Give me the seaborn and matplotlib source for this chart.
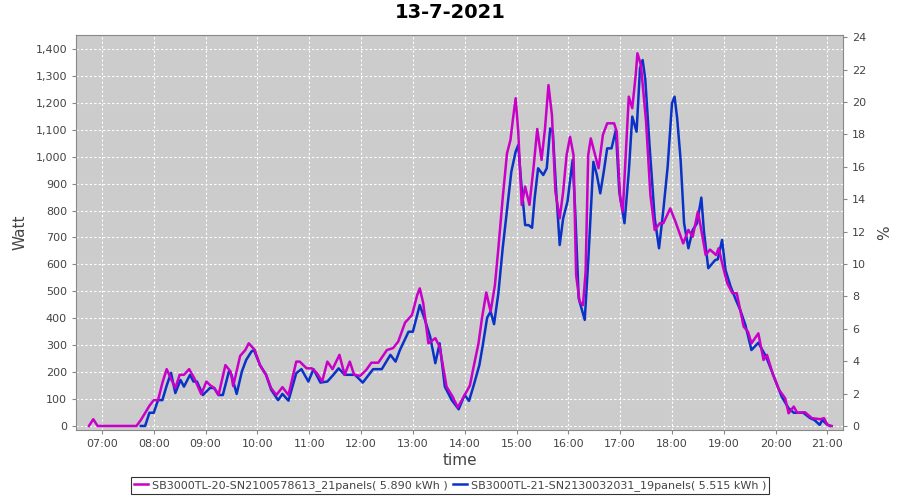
import matplotlib
matplotlib.use("Agg")
import matplotlib.pyplot as plt
import matplotlib.dates as mdates
from matplotlib.ticker import FuncFormatter, MultipleLocator
import pandas as pd
import seaborn as sns

day = "2021-07-13"
title = "13-7-2021"
name_a = "SB3000TL-20-SN2100578613_21panels( 5.890 kWh )"
name_b = "SB3000TL-21-SN2130032031_19panels( 5.515 kWh )"

# magenta inverter (21 panels), watt
times_a = ["06:45", "06:50", "06:55", "07:00", "07:10", "07:20", "07:30", "07:40",
           "07:45", "07:50", "07:55", "08:00", "08:05", "08:10", "08:15", "08:20",
           "08:25", "08:30", "08:35", "08:41", "08:47", "08:55", "09:01", "09:05",
           "09:10", "09:15", "09:23", "09:29", "09:32", "09:40", "09:46", "09:50",
           "09:57", "10:03", "10:10", "10:16", "10:22", "10:29", "10:36", "10:45",
           "10:49", "10:57", "11:03", "11:09", "11:15", "11:21", "11:27", "11:35",
           "11:41", "11:47", "11:52", "11:59", "12:06", "12:12", "12:20", "12:30",
           "12:37", "12:43", "12:51", "12:59", "13:05", "13:08", "13:12", "13:18",
           "13:26", "13:31", "13:39", "13:46", "13:52", "13:59", "14:06", "14:10",
           "14:16", "14:20", "14:25", "14:30", "14:35", "14:39", "14:44", "14:49",
           "14:53", "14:56", "14:59", "15:02", "15:06", "15:10", "15:15", "15:20",
           "15:24", "15:29", "15:33", "15:37", "15:41", "15:45", "15:50", "15:54",
           "15:58", "16:02", "16:06", "16:09", "16:13", "16:17", "16:20", "16:23",
           "16:26", "16:31", "16:35", "16:40", "16:45", "16:53", "16:56", "17:00",
           "17:03", "17:06", "17:10", "17:14", "17:18", "17:20", "17:24", "17:30",
           "17:35", "17:40", "17:46", "17:50", "17:58", "18:04", "18:13", "18:19",
           "18:24", "18:30", "18:35", "18:39", "18:44", "18:51", "18:54", "18:59",
           "19:04", "19:10", "19:15", "19:19", "19:23", "19:28", "19:32", "19:40",
           "19:46", "19:50", "19:57", "20:04", "20:11", "20:15", "20:21", "20:25",
           "20:34", "20:42", "20:52", "20:56", "21:00", "21:05"]
watt_a = [0, 25, 0, 0, 0, 0, 0, 0,
          22, 48, 75, 96, 96, 160, 211, 175,
          141, 190, 190, 211, 177, 118, 165, 152,
          141, 115, 226, 202, 148, 260, 282, 307,
          282, 226, 190, 140, 115, 144, 115, 239,
          239, 214, 214, 196, 165, 239, 211, 264,
          190, 239, 190, 186, 208, 235, 235, 282,
          289, 313, 384, 412, 486, 511, 456, 307,
          326, 294, 146, 109, 69, 109, 150, 214,
          307, 400, 496, 425, 523, 660, 846, 1013,
          1062, 1143, 1217, 1093, 821, 889, 821, 969,
          1103, 988, 1105, 1266, 1155, 870, 771, 870,
          1006, 1074, 1006, 561, 462, 449, 573, 1006,
          1068, 1006, 957, 1081, 1124, 1124, 1093, 846,
          796, 981, 1223, 1180, 1303, 1384, 1341, 1130,
          858, 728, 753, 753, 808, 759, 678, 728,
          703, 796, 709, 635, 655, 635, 660, 592,
          530, 493, 493, 431, 369, 350, 307, 344,
          245, 264, 190, 134, 103, 47, 72, 49,
          51, 29, 25, 29, 4, 0]

# blue inverter (19 panels), watt
times_b = ["07:45", "07:50", "07:55", "08:00", "08:05", "08:10", "08:15", "08:20",
           "08:25", "08:31", "08:35", "08:42", "08:46", "08:50", "08:57", "09:05",
           "09:10", "09:15", "09:20", "09:27", "09:30", "09:36", "09:42", "09:47",
           "09:53", "09:56", "10:03", "10:10", "10:16", "10:24", "10:29", "10:36",
           "10:45", "10:51", "10:59", "11:05", "11:13", "11:21", "11:28", "11:34",
           "11:41", "11:53", "12:02", "12:14", "12:24", "12:34", "12:40", "12:45",
           "12:55", "13:00", "13:08", "13:14", "13:20", "13:26", "13:31", "13:37",
           "13:45", "13:53", "14:00", "14:05", "14:10", "14:17", "14:21", "14:26",
           "14:30", "14:34", "14:39", "14:44", "14:49", "14:54", "14:59", "15:02",
           "15:05", "15:10", "15:14", "15:18", "15:21", "15:25", "15:31", "15:35",
           "15:39", "15:42", "15:46", "15:50", "15:54", "15:59", "16:05", "16:08",
           "16:12", "16:19", "16:23", "16:29", "16:33", "16:37", "16:41", "16:45",
           "16:50", "16:55", "16:59", "17:05", "17:10", "17:14", "17:19", "17:23",
           "17:26", "17:29", "17:34", "17:40", "17:45", "17:50", "17:55", "18:00",
           "18:03", "18:06", "18:10", "18:14", "18:19", "18:24", "18:29", "18:34",
           "18:37", "18:42", "18:50", "18:53", "18:58", "19:02", "19:08", "19:14",
           "19:19", "19:25", "19:32", "19:40", "19:49", "19:58", "20:07", "20:15",
           "20:21", "20:32", "20:40", "20:45", "20:51", "20:54", "20:59", "21:03"]
watt_b = [0, 0, 49, 49, 96, 96, 150, 197,
          122, 171, 146, 190, 165, 165, 115, 141,
          141, 115, 115, 202, 190, 119, 202, 245,
          276, 282, 226, 190, 134, 96, 119, 94,
          196, 211, 165, 211, 161, 165, 190, 214,
          190, 190, 161, 211, 211, 264, 239, 282,
          350, 350, 449, 394, 332, 233, 307, 146,
          96, 62, 115, 93, 146, 226, 301, 402,
          425, 378, 493, 660, 802, 944, 1019, 1043,
          920, 746, 746, 736, 846, 957, 932, 957,
          1105, 1093, 870, 672, 771, 833, 988, 796,
          474, 394, 610, 981, 932, 864, 944, 1031,
          1031, 1099, 870, 753, 944, 1149, 1093, 1328,
          1359, 1291, 1043, 771, 660, 802, 963, 1198,
          1223, 1143, 988, 753, 660, 728, 753, 848,
          722, 586, 616, 619, 691, 579, 517, 468,
          431, 375, 282, 309, 257, 183, 109, 66,
          49, 49, 29, 22, 4, 22, 7, 0]

pct_ticks = list(range(0, 25, 2))

col_a = "#C800C8"
col_b = "#0A32C8"
txt = "#444444"

df_a = pd.DataFrame({"time": pd.to_datetime([day + " " + t for t in times_a]), "watt": watt_a})
df_b = pd.DataFrame({"time": pd.to_datetime([day + " " + t for t in times_b]), "watt": watt_b})

plt.rcParams["font.family"] = ["DejaVu Sans"]

fig = plt.figure(figsize=(9, 5), dpi=100)
ax = fig.add_axes([76 / 900, 70 / 500, 767 / 900, 395 / 500])
ax.set_facecolor("#CCCCCC")

# JFreeChart draws the first series on top
sns.lineplot(data=df_b, x="time", y="watt", color=col_b, linewidth=1.8, ax=ax, label=name_b)
sns.lineplot(data=df_a, x="time", y="watt", color=col_a, linewidth=1.8, ax=ax, label=name_a)

ax.set_xlim(pd.Timestamp(day + " 06:30"), pd.Timestamp(day + " 21:18"))
ax.set_ylim(-15, 1452)
ax.yaxis.set_major_locator(MultipleLocator(100))
ax.yaxis.set_major_formatter(FuncFormatter(lambda v, p: f"{int(v):,}"))
ax.xaxis.set_major_locator(mdates.HourLocator(byhour=range(7, 22)))
ax.xaxis.set_major_formatter(mdates.DateFormatter("%H:%M"))

ax.grid(True, color="white", linestyle=(0, (2, 2)), linewidth=0.8)
ax.set_axisbelow(True)
for s in ax.spines.values():
    s.set_color("#888888")
    s.set_linewidth(0.8)
ax.tick_params(labelsize=8, colors=txt, length=3, color="#888888")

ax.set_xlabel("time", fontsize=11, color=txt, labelpad=3)
ax.set_ylabel("Watt", fontsize=11, color=txt, labelpad=6)

ax2 = ax.twinx()
ax2.set_ylim(-0.25, 24.14)
ax2.set_yticks(pct_ticks)
ax2.tick_params(labelsize=8, colors=txt, length=3, color="#888888")
for s in ax2.spines.values():
    s.set_visible(False)
ax2.set_ylabel("%", fontsize=11, color=txt, labelpad=8)

fig.suptitle(title, fontsize=14, fontweight="bold", y=0.995)

h, l = ax.get_legend_handles_labels()
ax.get_legend().remove()
leg = fig.legend(h[::-1], l[::-1], loc="lower center", bbox_to_anchor=(0.5, 0.0),
                 ncol=2, fontsize=8, frameon=True, fancybox=False, edgecolor="black",
                 handlelength=1.3, handletextpad=0.3, columnspacing=0.5,
                 borderpad=0.3, labelcolor=txt)
leg.get_frame().set_linewidth(0.8)

fig.savefig("out.png", dpi=100)
